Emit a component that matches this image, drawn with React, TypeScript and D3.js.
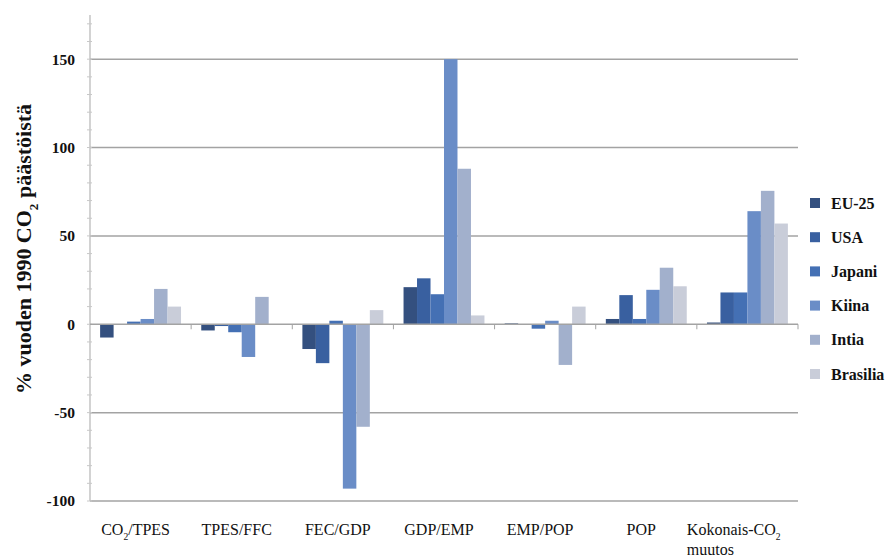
import React from 'react';
import * as d3 from 'd3';

const categories = ['CO2/TPES', 'TPES/FFC', 'FEC/GDP', 'GDP/EMP', 'EMP/POP', 'POP', 'Kokonais-CO2|muutos'];
const series = ['EU-25', 'USA', 'Japani', 'Kiina', 'Intia', 'Brasilia'];
const colors = ['#34507f', '#3960a0', '#4470b4', '#6a8dc7', '#a2b0cc', '#c9cdd9'];

// one row per category, values in series order
const values: number[][] = [
  [-7.5, 0, 1.5, 3, 20, 10],
  [-3.5, -1, -4.5, -18.5, 15.5, 0],
  [-14, -22, 2, -93, -58, 8],
  [21, 26, 17, 150, 88, 5],
  [0.5, 0, -2.5, 2, -23, 10],
  [3, 16.5, 3, 19.5, 32, 21.5],
  [1, 18, 18, 64, 75.5, 57],
];

const yTicks = [-100, -50, 0, 50, 100, 150];
const minorTicks = d3.range(-100, 171, 10);

const FONT = '"Liberation Serif", "DejaVu Serif", serif';

// renders "CO2" with a subscript 2
const withSub = (text: string, size: number) => {
  const parts = text.split('CO2');
  const out: React.ReactNode[] = [];
  parts.forEach((p, i) => {
    if (i > 0) {
      out.push(<tspan key={'c' + i}>CO</tspan>);
      out.push(<tspan key={'s' + i} dy={size * 0.3} fontSize={size * 0.6}>2</tspan>);
      out.push(<tspan key={'p' + i} dy={-size * 0.3}>{p}</tspan>);
    } else if (p) {
      out.push(<tspan key={'p' + i}>{p}</tspan>);
    }
  });
  return out;
};

export default function App() {
  const width = 888;
  const height = 560;
  const left = 90;
  const right = 798;

  const y = d3.scaleLinear().domain([-100, 175]).range([501, 15]);
  const x0 = d3.scaleBand<string>().domain(categories).range([left, right]).padding(0);
  const bw = x0.bandwidth();
  const x1 = d3.scaleBand<string>().domain(series).range([bw * 0.1, bw * 0.9]).padding(0);

  return (
    <svg width={width} height={height} style={{ position: 'absolute', left: 0, top: 0, background: '#fff' }} fontFamily={FONT}>
      {/* gridlines */}
      {yTicks.filter(t => t !== 0).map(t => (
        <line key={t} x1={left} x2={right} y1={y(t)} y2={y(t)} stroke="#a3a3a3" strokeWidth={1.5} />
      ))}

      {/* y axis */}
      <line x1={left} x2={left} y1={y(175)} y2={y(-100)} stroke="#b5b5b5" strokeWidth={1.2} />
      {minorTicks.map(t => (
        <line key={'m' + t} x1={left - 3} x2={left + 2} y1={y(t)} y2={y(t)} stroke="#c8c8c8" strokeWidth={1} />
      ))}
      {yTicks.map(t => (
        <text key={'l' + t} x={75} y={y(t)} dy="0.35em" textAnchor="end" fontSize={15.5} fontWeight="bold" fill="#111">{t}</text>
      ))}

      {/* bars */}
      {categories.map((c, ci) => (
        <g key={c} transform={`translate(${x0(c)},0)`}>
          {series.map((s, si) => {
            const v = values[ci][si];
            return (
              <rect key={s} x={x1(s)} width={x1.bandwidth()} y={y(Math.max(0, v))}
                height={Math.abs(y(v) - y(0))} fill={colors[si]} />
            );
          })}
        </g>
      ))}

      {/* category axis at zero */}
      <line x1={left} x2={right} y1={y(0)} y2={y(0)} stroke="#a3a3a3" strokeWidth={1.5} />
      {categories.map(c => (
        <line key={'t' + c} x1={(x0(c) as number) + bw} x2={(x0(c) as number) + bw} y1={y(0)} y2={y(0) + 5} stroke="#a3a3a3" strokeWidth={1} />
      ))}

      {/* category labels */}
      {categories.map((c, ci) => {
        const lines = c.split('|');
        const cx = (x0(c) as number) + bw / 2;
        if (lines.length > 1) {
          return (
            <g key={'x' + c}>
              {lines.map((ln, li) => (
                <text key={li} x={(x0(c) as number) - 10} y={535 + li * 20} fontSize={16} fill="#111">{withSub(ln, 16)}</text>
              ))}
            </g>
          );
        }
        return (
          <text key={'x' + c} x={cx - 5} y={535} textAnchor="middle" fontSize={16} fill="#111">{withSub(c, 16)}</text>
        );
      })}

      {/* y title */}
      <text transform="translate(31,249) rotate(-90)" textAnchor="middle" fontSize={22} fontWeight="bold" fill="#111">
        {withSub('% vuoden 1990 CO2 päästöistä', 22)}
      </text>

      {/* legend */}
      {series.map((s, i) => (
        <g key={'lg' + s} transform={`translate(810,${203 + i * 34.2})`}>
          <rect x={0} y={-5} width={10} height={10} fill={colors[i]} />
          <text x={21} y={0} dy="0.35em" fontSize={16} fontWeight="bold" fill="#111">{s}</text>
        </g>
      ))}
    </svg>
  );
}
